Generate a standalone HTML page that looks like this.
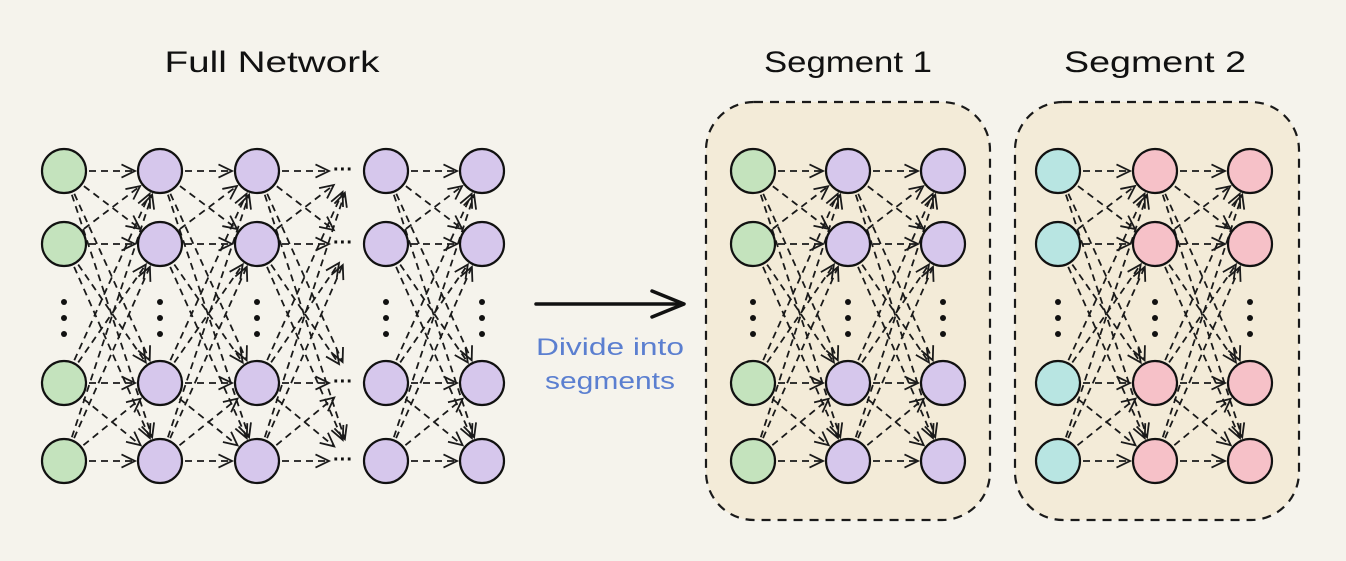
<!DOCTYPE html>
<html><head><meta charset="utf-8"><style>
html,body{margin:0;padding:0;background:#f5f3ec;width:1346px;height:561px;overflow:hidden}
svg{display:block}
text{font-family:"Liberation Sans",sans-serif}
</style></head><body>
<svg id="s" width="1346" height="561" viewBox="0 0 1346 561" xmlns="http://www.w3.org/2000/svg">
<rect width="1346" height="561" fill="#f5f3ec"/>
<rect x="706" y="102" width="284" height="418" rx="48" fill="#f3ebd8" stroke="#1a1a1a" stroke-width="2.2" stroke-dasharray="9 7"/>
<rect x="1015" y="102" width="284" height="418" rx="48" fill="#f3ebd8" stroke="#1a1a1a" stroke-width="2.2" stroke-dasharray="9 7"/>
<text x="272" y="72" font-size="30" text-anchor="middle" textLength="215" lengthAdjust="spacingAndGlyphs" fill="#111">Full Network</text>
<text x="848" y="72" font-size="30" text-anchor="middle" textLength="168" lengthAdjust="spacingAndGlyphs" fill="#111">Segment 1</text>
<text x="1155" y="72" font-size="30" text-anchor="middle" textLength="182" lengthAdjust="spacingAndGlyphs" fill="#111">Segment 2</text>
<line x1="536" y1="304" x2="683" y2="304" stroke="#111" stroke-width="3.5" stroke-linecap="round"/>
<polyline points="652,291 684,304 652,317" fill="none" stroke="#111" stroke-width="3.5" stroke-linecap="round" stroke-linejoin="round"/>
<text x="610" y="355" font-size="24" text-anchor="middle" textLength="148" lengthAdjust="spacingAndGlyphs" fill="#5b7fd0">Divide into</text>
<text x="610" y="389" font-size="24" text-anchor="middle" textLength="130" lengthAdjust="spacingAndGlyphs" fill="#5b7fd0">segments</text>
<g id="edges"></g><g id="nodes"></g>
</svg>
<script>
var NS="http://www.w3.org/2000/svg",E=document.getElementById("edges"),N=document.getElementById("nodes");
var rows=[171,244,383,461],R=22;
function el(t,a,p){var e=document.createElementNS(NS,t);for(var k in a)e.setAttribute(k,a[k]);p.appendChild(e);return e;}
function edge(x1,y1,x2,y2,endR){var dx=x2-x1,dy=y2-y1,L=Math.hypot(dx,dy),ux=dx/L,uy=dy/L;
var sx=x1+ux*(R+3),sy=y1+uy*(R+3),ex=x2-ux*endR,ey=y2-uy*endR;
el("line",{x1:sx,y1:sy,x2:ex,y2:ey,stroke:"#1a1a1a","stroke-width":1.8,"stroke-dasharray":"7 5"},E);
var a=0.45,l=15,ca=Math.cos(a),sa=Math.sin(a);
var p1=[ex-l*(ux*ca-uy*sa),ey-l*(uy*ca+ux*sa)],p2=[ex-l*(ux*ca+uy*sa),ey-l*(uy*ca-ux*sa)];
el("polyline",{points:p1+" "+ex+","+ey+" "+p2,fill:"none",stroke:"#1a1a1a","stroke-width":1.8},E);}
function full(xa,xb,endR){rows.forEach(function(y1){rows.forEach(function(y2){edge(xa,y1,xb,y2,endR);});});}
function col(x,fill){rows.forEach(function(y){el("circle",{cx:x,cy:y,r:R,fill:fill,stroke:"#111","stroke-width":2.2},N);});
[302,318,334].forEach(function(y){el("circle",{cx:x,cy:y,r:3,fill:"#111"},N);});}
var G="#c4e3bd",P="#d6c7ec",C="#b8e5e2",K="#f6c1c8";
full(64,160,R+3);full(160,257,R+3);full(386,482,R+3);
rows.forEach(function(y1){rows.forEach(function(y2){edge(257,y1,330+R,y2,R+1);});});
rows.forEach(function(y){el("text",{x:333,y:y+5,"font-size":20,"font-weight":"bold",fill:"#111"},N).textContent="···";});
col(64,G);col(160,P);col(257,P);col(386,P);col(482,P);
full(753,848,R+3);full(848,943,R+3);col(753,G);col(848,P);col(943,P);
full(1058,1155,R+3);full(1155,1250,R+3);col(1058,C);col(1155,K);col(1250,K);
</script>
</body></html>
